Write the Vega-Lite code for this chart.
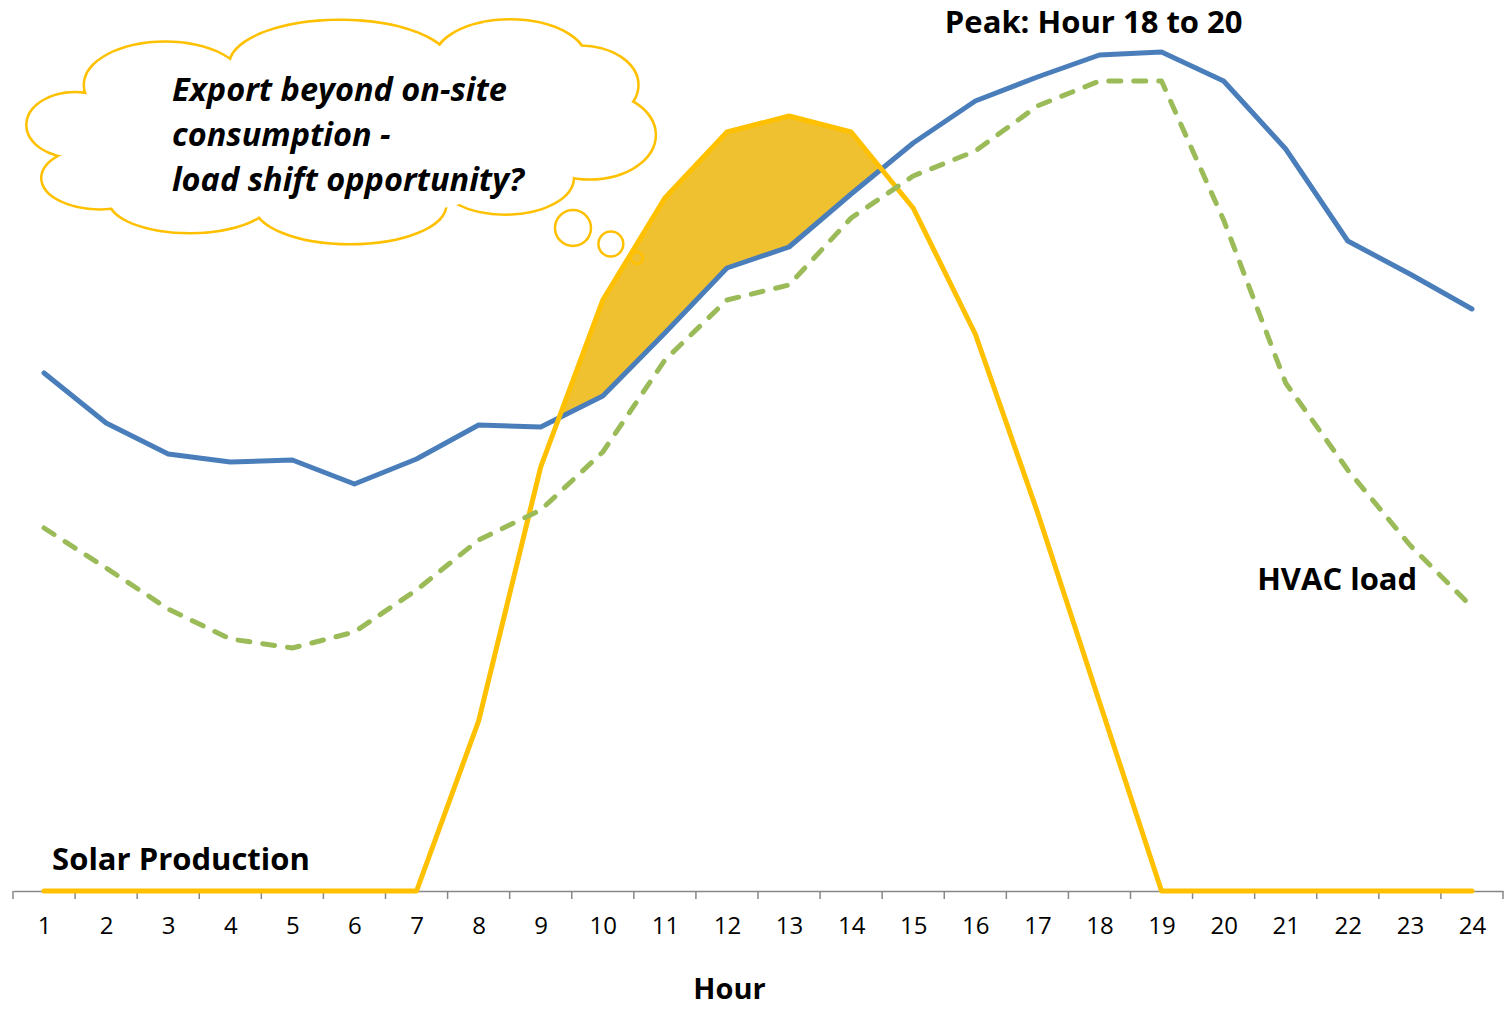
{
  "$schema": "https://vega.github.io/schema/vega-lite/v6.json",
  "width": 1490,
  "height": 880,
  "autosize": {"type": "none"},
  "padding": {"left": 13, "top": 11, "right": 6, "bottom": 118},
  "background": "white",
  "config": {"view": {"stroke": null}, "font": "Open Sans"},
  "datasets": {
    "total": [
      {"hour": 1, "value": 518}, {"hour": 2, "value": 468}, {"hour": 3, "value": 437}, {"hour": 4, "value": 429},
      {"hour": 5, "value": 431}, {"hour": 6, "value": 407}, {"hour": 7, "value": 432}, {"hour": 8, "value": 466},
      {"hour": 9, "value": 464}, {"hour": 10, "value": 495}, {"hour": 11, "value": 558}, {"hour": 12, "value": 623},
      {"hour": 13, "value": 644}, {"hour": 14, "value": 697}, {"hour": 15, "value": 748}, {"hour": 16, "value": 790},
      {"hour": 17, "value": 814}, {"hour": 18, "value": 836}, {"hour": 19, "value": 839}, {"hour": 20, "value": 810},
      {"hour": 21, "value": 742}, {"hour": 22, "value": 650}, {"hour": 23, "value": 617}, {"hour": 24, "value": 582}
    ],
    "hvac": [
      {"hour": 1, "value": 363}, {"hour": 2, "value": 323}, {"hour": 3, "value": 282}, {"hour": 4, "value": 252},
      {"hour": 5, "value": 243}, {"hour": 6, "value": 259}, {"hour": 7, "value": 301}, {"hour": 8, "value": 351},
      {"hour": 9, "value": 381}, {"hour": 10, "value": 439}, {"hour": 11, "value": 531}, {"hour": 12, "value": 591},
      {"hour": 13, "value": 606}, {"hour": 14, "value": 673}, {"hour": 15, "value": 715}, {"hour": 16, "value": 740},
      {"hour": 17, "value": 785}, {"hour": 18, "value": 810}, {"hour": 19, "value": 810}, {"hour": 20, "value": 671},
      {"hour": 21, "value": 508}, {"hour": 22, "value": 421}, {"hour": 23, "value": 346}, {"hour": 24, "value": 284}
    ],
    "solar": [
      {"hour": 1, "value": 0}, {"hour": 2, "value": 0}, {"hour": 3, "value": 0}, {"hour": 4, "value": 0},
      {"hour": 5, "value": 0}, {"hour": 6, "value": 0}, {"hour": 7, "value": 0}, {"hour": 8, "value": 170},
      {"hour": 9, "value": 424}, {"hour": 10, "value": 591}, {"hour": 11, "value": 693}, {"hour": 12, "value": 759},
      {"hour": 13, "value": 775}, {"hour": 14, "value": 759}, {"hour": 15, "value": 683}, {"hour": 16, "value": 557},
      {"hour": 17, "value": 379}, {"hour": 18, "value": 189}, {"hour": 19, "value": 0}, {"hour": 20, "value": 0},
      {"hour": 21, "value": 0}, {"hour": 22, "value": 0}, {"hour": 23, "value": 0}, {"hour": 24, "value": 0}
    ],
    "excess": [
      {"hour": 9.29, "value": 473, "low": 473}, {"hour": 10, "value": 591, "low": 495},
      {"hour": 11, "value": 693, "low": 558}, {"hour": 12, "value": 759, "low": 623},
      {"hour": 13, "value": 775, "low": 644}, {"hour": 14, "value": 759, "low": 697},
      {"hour": 14.47, "value": 722, "low": 722}
    ],
    "boundaries": [
      {"hour": 0.5}, {"hour": 1.5}, {"hour": 2.5}, {"hour": 3.5}, {"hour": 4.5}, {"hour": 5.5}, {"hour": 6.5},
      {"hour": 7.5}, {"hour": 8.5}, {"hour": 9.5}, {"hour": 10.5}, {"hour": 11.5}, {"hour": 12.5}, {"hour": 13.5},
      {"hour": 14.5}, {"hour": 15.5}, {"hour": 16.5}, {"hour": 17.5}, {"hour": 18.5}, {"hour": 19.5}, {"hour": 20.5},
      {"hour": 21.5}, {"hour": 22.5}, {"hour": 23.5}, {"hour": 24.5}
    ],
    "lobes": [
      {"hour": 1.50, "value": 766, "w": 1.53, "k": "r15"},
      {"hour": 1.90, "value": 713, "w": 1.85, "k": "r19"},
      {"hour": 3.35, "value": 691, "w": 2.58, "k": "r25"},
      {"hour": 5.93, "value": 686, "w": 3.06, "k": "r25"},
      {"hour": 8.43, "value": 713, "w": 2.17, "k": "r19"},
      {"hour": 9.79, "value": 756, "w": 2.09, "k": "r15"},
      {"hour": 9.63, "value": 806, "w": 1.85, "k": "r15"},
      {"hour": 8.51, "value": 831, "w": 2.42, "k": "r19"},
      {"hour": 5.77, "value": 826, "w": 3.54, "k": "r25"},
      {"hour": 2.95, "value": 806, "w": 2.58, "k": "r19"}
    ],
    "filler": [
      {"hour": 1.50, "value": 766, "w": 1.53, "k": "r15"},
      {"hour": 1.90, "value": 713, "w": 1.85, "k": "r19"},
      {"hour": 3.35, "value": 691, "w": 2.58, "k": "r25"},
      {"hour": 5.93, "value": 686, "w": 3.06, "k": "r25"},
      {"hour": 8.43, "value": 713, "w": 2.17, "k": "r19"},
      {"hour": 9.79, "value": 756, "w": 2.09, "k": "r15"},
      {"hour": 9.63, "value": 806, "w": 1.85, "k": "r15"},
      {"hour": 8.51, "value": 831, "w": 2.42, "k": "r19"},
      {"hour": 5.77, "value": 826, "w": 3.54, "k": "r25"},
      {"hour": 2.95, "value": 806, "w": 2.58, "k": "r19"},
      {"hour": 2.40, "value": 752, "w": 1.70, "k": "r15"},
      {"hour": 5.77, "value": 756, "w": 6.76, "k": "r25"}
    ],
    "bubbles": [
      {"hour": 9.52, "value": 663, "w": 0.58, "k": "r1"},
      {"hour": 10.13, "value": 647, "w": 0.40, "k": "r1"},
      {"hour": 10.55, "value": 633, "w": 0.19, "k": "r1"}
    ],
    "labels": [
      {"hour": 15.51, "value": 858, "text": "Peak: Hour 18 to 20"},
      {"hour": 20.54, "value": 301, "text": "HVAC load"},
      {"hour": 1.13, "value": 21, "text": "Solar Production"}
    ],
    "note": [
      {"hour": 3.06, "value": 790, "text": "Export beyond on-site\nconsumption -\nload shift opportunity?"}
    ]
  },
  "layer": [
    {
      "data": {"name": "excess"},
      "mark": {"type": "area", "color": "#EFC030", "opacity": 1},
      "encoding": {
        "x": {
          "field": "hour", "type": "quantitative",
          "scale": {"domain": [0.5, 24.5], "nice": false, "zero": false},
          "axis": {
            "values": [1, 2, 3, 4, 5, 6, 7, 8, 9, 10, 11, 12, 13, 14, 15, 16, 17, 18, 19, 20, 21, 22, 23, 24],
            "format": "d",
            "ticks": false,
            "grid": false,
            "domainColor": "#878787", "domainWidth": 1.5,
            "labelFont": "Open Sans", "labelFontSize": 24, "labelColor": "#000000",
            "labelPadding": 23, "labelFlush": false, "labelOverlap": false,
            "title": "Hour", "titleFont": "Open Sans", "titleFontSize": 29, "titleFontWeight": "bold",
            "titleColor": "#000000", "titleX": 716, "titleY": 98, "titleBaseline": "middle",
            "titleAlign": "center", "titleAnchor": null
          }
        },
        "y": {"field": "value", "type": "quantitative", "scale": {"domain": [0, 880], "nice": false, "zero": true}, "axis": null},
        "y2": {"field": "low"}
      }
    },
    {
      "data": {"name": "boundaries"},
      "mark": {"type": "rule", "color": "#878787", "strokeWidth": 1.5},
      "encoding": {
        "x": {"field": "hour", "type": "quantitative"},
        "y": {"datum": 0},
        "y2": {"datum": -8}
      }
    },
    {
      "data": {"name": "total"},
      "mark": {"type": "line", "color": "#4A7EBB", "strokeWidth": 5, "strokeJoin": "round", "strokeCap": "round"},
      "encoding": {
        "x": {"field": "hour", "type": "quantitative"},
        "y": {"field": "value", "type": "quantitative"}
      }
    },
    {
      "data": {"name": "solar"},
      "mark": {"type": "line", "color": "#FFC000", "strokeWidth": 5, "strokeJoin": "round", "strokeCap": "round"},
      "encoding": {
        "x": {"field": "hour", "type": "quantitative"},
        "y": {"field": "value", "type": "quantitative"}
      }
    },
    {
      "data": {"name": "hvac"},
      "mark": {"type": "line", "color": "#9BBB59", "strokeWidth": 5, "strokeDash": [12, 13], "strokeCap": "round", "strokeJoin": "round"},
      "encoding": {
        "x": {"field": "hour", "type": "quantitative"},
        "y": {"field": "value", "type": "quantitative"}
      }
    },
    {
      "data": {"name": "lobes"},
      "mark": {"type": "point", "filled": true, "fill": "white", "stroke": "#FFC000", "strokeWidth": 5, "opacity": 1},
      "encoding": {
        "x": {"field": "hour", "type": "quantitative"},
        "y": {"field": "value", "type": "quantitative"},
        "size": {"field": "w", "type": "quantitative", "scale": {"type": "pow", "exponent": 2, "domain": [0, 10], "range": [0, 385530]}, "legend": null},
        "shape": {"field": "k", "type": "nominal", "legend": null,
          "scale": {"domain": ["r1", "r15", "r19", "r25"],
            "range": ["M-1,0A1,1 0 1,1 1,0A1,1 0 1,1 -1,0Z", "M-1,0A1,0.667 0 1,1 1,0A1,0.667 0 1,1 -1,0Z", "M-1,0A1,0.526 0 1,1 1,0A1,0.526 0 1,1 -1,0Z", "M-1,0A1,0.4 0 1,1 1,0A1,0.4 0 1,1 -1,0Z"]}}
      }
    },
    {
      "data": {"name": "filler"},
      "mark": {"type": "point", "filled": true, "fill": "white", "strokeWidth": 0, "opacity": 1},
      "encoding": {
        "x": {"field": "hour", "type": "quantitative"},
        "y": {"field": "value", "type": "quantitative"},
        "size": {"field": "w", "type": "quantitative", "legend": null},
        "shape": {"field": "k", "type": "nominal", "legend": null}
      }
    },
    {
      "data": {"name": "bubbles"},
      "mark": {"type": "point", "filled": false, "stroke": "#FFC000", "strokeWidth": 2.5, "opacity": 1},
      "encoding": {
        "x": {"field": "hour", "type": "quantitative"},
        "y": {"field": "value", "type": "quantitative"},
        "size": {"field": "w", "type": "quantitative", "legend": null},
        "shape": {"field": "k", "type": "nominal", "legend": null}
      }
    },
    {
      "data": {"name": "labels"},
      "mark": {"type": "text", "align": "left", "baseline": "alphabetic", "font": "Open Sans", "fontWeight": "bold", "fontSize": 31, "color": "#000000"},
      "encoding": {
        "x": {"field": "hour", "type": "quantitative"},
        "y": {"field": "value", "type": "quantitative"},
        "text": {"field": "text"}
      }
    },
    {
      "data": {"name": "note"},
      "mark": {"type": "text", "align": "left", "baseline": "alphabetic", "font": "Open Sans", "fontWeight": "bold", "fontStyle": "italic", "fontSize": 32.5, "lineHeight": 45, "lineBreak": "\n", "color": "#000000"},
      "encoding": {
        "x": {"field": "hour", "type": "quantitative"},
        "y": {"field": "value", "type": "quantitative"},
        "text": {"field": "text"}
      }
    }
  ]
}
